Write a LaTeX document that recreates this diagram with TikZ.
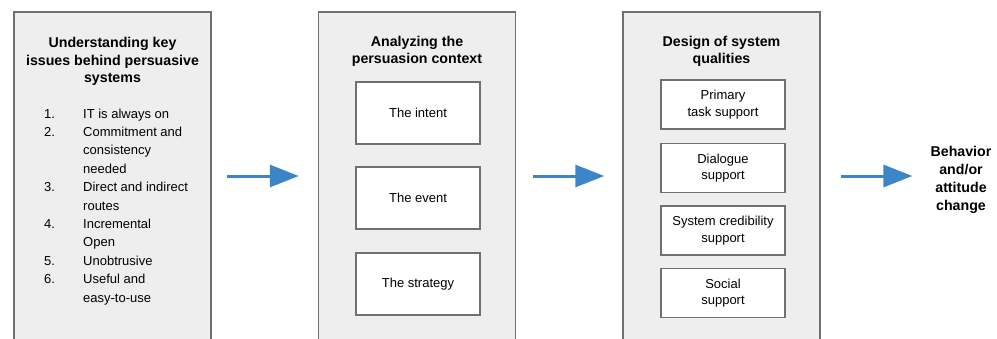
\documentclass[tikz,border=0pt]{standalone}
\usepackage{fontspec}
\setmainfont{Liberation Sans}
\usepackage{xcolor}
\usepackage{tikz}
\usetikzlibrary{arrows.meta,positioning}

\definecolor{panelgray}{HTML}{EEEEEE}
\definecolor{edgegray}{HTML}{707070}
\definecolor{flowblue}{HTML}{3D85C6}

\begin{document}
\begin{tikzpicture}[
    x=1pt, y=-1pt,
    font=\fontsize{13}{16.5}\selectfont,
    panel/.style={rectangle, draw=edgegray, line width=1.5pt, fill=panelgray, minimum width=197pt, minimum height=328pt},
    title/.style={align=center, font=\fontsize{14.2}{17.5}\selectfont\bfseries},
    box/.style={rectangle, draw=edgegray, line width=1.5pt, fill=white, minimum width=124pt, align=center},
    arrow/.style={-{Triangle[length=29pt,width=22pt]}, line width=3pt, draw=flowblue}
]
    \clip (0,0) rectangle (997,338);
    \useasboundingbox (0,0) rectangle (997,338);

    % Panels
    \node[panel] (issues) at (112.5,176) {};
    \node[panel] (context) at (417,176) {};
    \node[panel] (design) at (721.5,176) {};

    % Left panel - key issues
    \node[title] (issuestitle) at (112.5,61.5) {Understanding key\\issues behind persuasive\\systems};
    \node[anchor=north west, inner sep=0pt] (issuelist) at (44,105) {%
        \fontsize{13}{18.4}\selectfont
        \begin{tabular}{@{}p{39pt}@{}l@{}}
        1. & IT is always on\\
        2. & Commitment and\\
           & consistency\\
           & needed\\
        3. & Direct and indirect\\
           & routes\\
        4. & Incremental\\
           & Open\\
        5. & Unobtrusive\\
        6. & Useful and\\
           & easy-to-use
        \end{tabular}};

    % Middle panel - persuasion context
    \node[title] (contexttitle) at (417,51.5) {Analyzing the\\persuasion context};
    \node[box, minimum height=62pt] (intent) at (418,113) {The intent};
    \node[box, minimum height=62pt] (event) at (418,198) {The event};
    \node[box, minimum height=62pt] (strategy) at (418,284) {The strategy};

    % Right panel - system qualities
    \node[title] (designtitle) at (721.5,51.5) {Design of system\\qualities};
    \node[box, minimum height=49pt] (primary) at (723,104.5) {Primary\\task support};
    \node[box, minimum height=49pt] (dialogue) at (723,168) {Dialogue\\support};
    \node[box, minimum height=49pt] (credibility) at (723,230.5) {System credibility\\support};
    \node[box, minimum height=49pt] (social) at (723,293) {Social\\support};

    % Outcome
    \node[title, font=\fontsize{14.2}{18}\selectfont\bfseries, inner sep=0pt] (change) at (961,180) {Behavior\\and/or\\attitude\\change};

    % Arrows
    \draw[arrow, shorten <=15pt, shorten >=19pt] (issues) -- (context);
    \draw[arrow, shorten <=17pt, shorten >=18pt] (context) -- (design);
    \draw[arrow, shorten <=20pt, shorten >=18pt] (design) -- (change.west |- design);
\end{tikzpicture}
\end{document}
